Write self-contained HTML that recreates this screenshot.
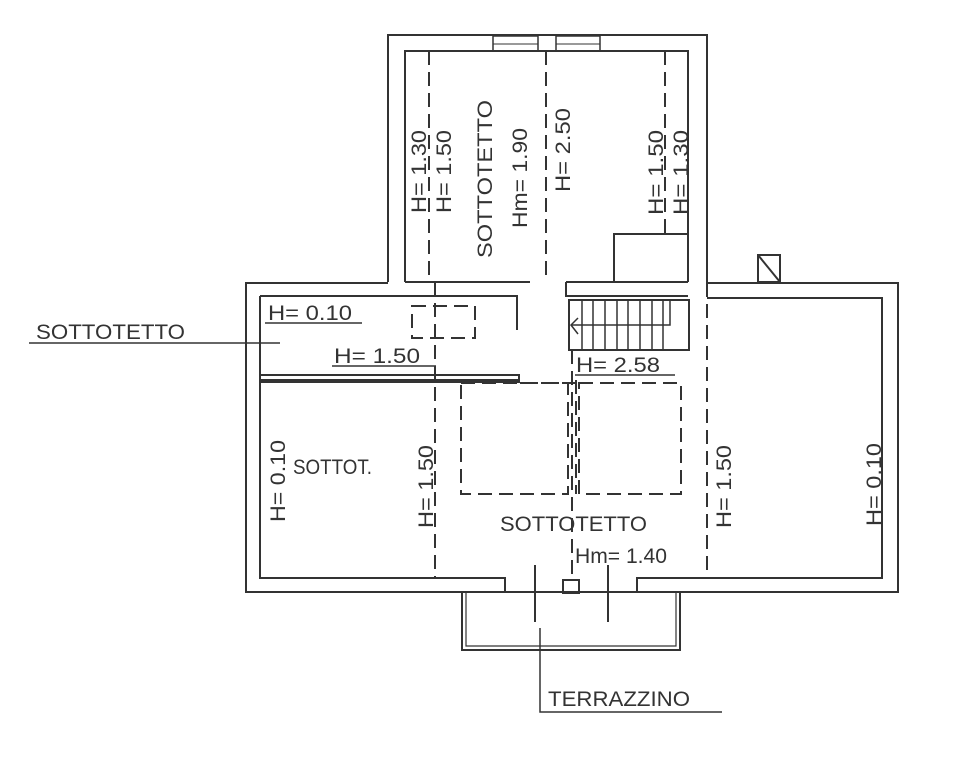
<!DOCTYPE html>
<html><head><meta charset="utf-8"><style>
body{margin:0;background:#fff}
svg text{font-family:"Liberation Sans",sans-serif;fill:#333;font-size:21px}
</style></head><body>
<svg width="967" height="753" viewBox="0 0 967 753" xmlns="http://www.w3.org/2000/svg">
<g stroke="#333" stroke-width="2" fill="none">
<polyline points="388,282 388,35 707,35 707,283"/>
<polyline points="405,282 405,51 688,51 688,282"/>
<rect x="493" y="36" width="45" height="15" stroke-width="1.5"/>
<rect x="556" y="36" width="44" height="15" stroke-width="1.5"/>
<line x1="493" y1="44" x2="538" y2="44" stroke-width="1"/>
<line x1="556" y1="44" x2="600" y2="44" stroke-width="1"/>
<polyline points="388,283 246,283 246,592 505,592"/>
<polyline points="637,592 898,592 898,283 707,283"/>
<line x1="505" y1="592" x2="637" y2="592"/>
<polyline points="260,296 260,578 505,578 505,592"/>
<polyline points="637,592 637,578 882,578 882,298 707,298"/>
<polyline points="388,296 260,296"/>
<line x1="405" y1="282" x2="530" y2="282"/>
<line x1="566" y1="282" x2="688" y2="282"/>
<polyline points="260,296 517,296 517,330"/>
<polyline points="260,375 519,375 519,380 260,380"/>
<line x1="260" y1="382" x2="520" y2="382"/>
<polyline points="566,282 566,296 688,296"/>
<rect x="569" y="300" width="120" height="50"/>
<g stroke-width="1.5">
<line x1="582" y1="300" x2="582" y2="350"/><line x1="593" y1="300" x2="593" y2="350"/>
<line x1="605" y1="300" x2="605" y2="350"/><line x1="617" y1="300" x2="617" y2="350"/>
<line x1="628" y1="300" x2="628" y2="350"/><line x1="640" y1="300" x2="640" y2="350"/>
<line x1="652" y1="300" x2="652" y2="350"/><line x1="663" y1="300" x2="663" y2="350"/>
<polyline points="670,300 670,325 571,325"/>
<polyline points="578,318 571,325 578,334"/>
</g>
<polyline points="614,282 614,234 688,234"/>
<rect x="758" y="255" width="22" height="27"/>
<line x1="758" y1="255" x2="780" y2="282"/>
<polyline points="462,593 462,650 680,650 680,593"/>
<polyline points="466,593 466,646 676,646 676,593" stroke-width="1.2"/>
<line x1="535" y1="565" x2="535" y2="622"/>
<line x1="608" y1="565" x2="608" y2="622"/>
<rect x="563" y="580" width="16" height="13"/>
<polyline points="540,628 540,712 722,712" stroke-width="1.5"/>
<line x1="29" y1="343" x2="280" y2="343" stroke-width="1.5"/>
<line x1="265" y1="323" x2="362" y2="323" stroke-width="1.5"/>
<line x1="332" y1="366" x2="436" y2="366" stroke-width="1.5"/>
<line x1="575" y1="375" x2="675" y2="375" stroke-width="1.5"/>
</g>
<g stroke="#333" stroke-width="2" fill="none" stroke-dasharray="14,7">
<line x1="429" y1="51" x2="429" y2="282"/>
<line x1="546" y1="51" x2="546" y2="282"/>
<line x1="665" y1="51" x2="665" y2="234"/>
<line x1="435" y1="282" x2="435" y2="578"/>
<line x1="707" y1="283" x2="707" y2="578"/>
<line x1="572" y1="350" x2="572" y2="578"/>
<line x1="576" y1="380" x2="576" y2="494"/>
<rect x="412" y="306" width="63" height="32"/>
<rect x="461" y="383" width="107" height="111"/>
<rect x="579" y="383" width="102" height="111"/>
<line x1="520" y1="383" x2="575" y2="383"/>
</g>
<g lengthAdjust="spacingAndGlyphs">
<text x="36" y="339" textLength="149" lengthAdjust="spacingAndGlyphs">SOTTOTETTO</text>
<text x="268" y="320" textLength="84" lengthAdjust="spacingAndGlyphs">H= 0.10</text>
<text x="334" y="363" textLength="86" lengthAdjust="spacingAndGlyphs">H= 1.50</text>
<text x="576" y="372" textLength="84" lengthAdjust="spacingAndGlyphs">H= 2.58</text>
<text x="293" y="474" textLength="79" lengthAdjust="spacingAndGlyphs">SOTTOT.</text>
<text x="500" y="531" textLength="147" lengthAdjust="spacingAndGlyphs">SOTTOTETTO</text>
<text x="575" y="563" textLength="92" lengthAdjust="spacingAndGlyphs">Hm= 1.40</text>
<text x="548" y="706" textLength="142" lengthAdjust="spacingAndGlyphs">TERRAZZINO</text>
<text transform="translate(426,213) rotate(-90)" textLength="83" lengthAdjust="spacingAndGlyphs">H= 1.30</text>
<text transform="translate(451,213) rotate(-90)" textLength="83" lengthAdjust="spacingAndGlyphs">H= 1.50</text>
<text transform="translate(492,258) rotate(-90)" textLength="158" lengthAdjust="spacingAndGlyphs">SOTTOTETTO</text>
<text transform="translate(527,228) rotate(-90)" textLength="100" lengthAdjust="spacingAndGlyphs">Hm= 1.90</text>
<text transform="translate(570,192) rotate(-90)" textLength="84" lengthAdjust="spacingAndGlyphs">H= 2.50</text>
<text transform="translate(663,215) rotate(-90)" textLength="85" lengthAdjust="spacingAndGlyphs">H= 1.50</text>
<text transform="translate(688,215) rotate(-90)" textLength="85" lengthAdjust="spacingAndGlyphs">H= 1.30</text>
<text transform="translate(285,522) rotate(-90)" textLength="82" lengthAdjust="spacingAndGlyphs">H= 0.10</text>
<text transform="translate(433,528) rotate(-90)" textLength="83" lengthAdjust="spacingAndGlyphs">H= 1.50</text>
<text transform="translate(731,528) rotate(-90)" textLength="83" lengthAdjust="spacingAndGlyphs">H= 1.50</text>
<text transform="translate(881,526) rotate(-90)" textLength="83" lengthAdjust="spacingAndGlyphs">H= 0.10</text>
</g>
</svg>
</body></html>
